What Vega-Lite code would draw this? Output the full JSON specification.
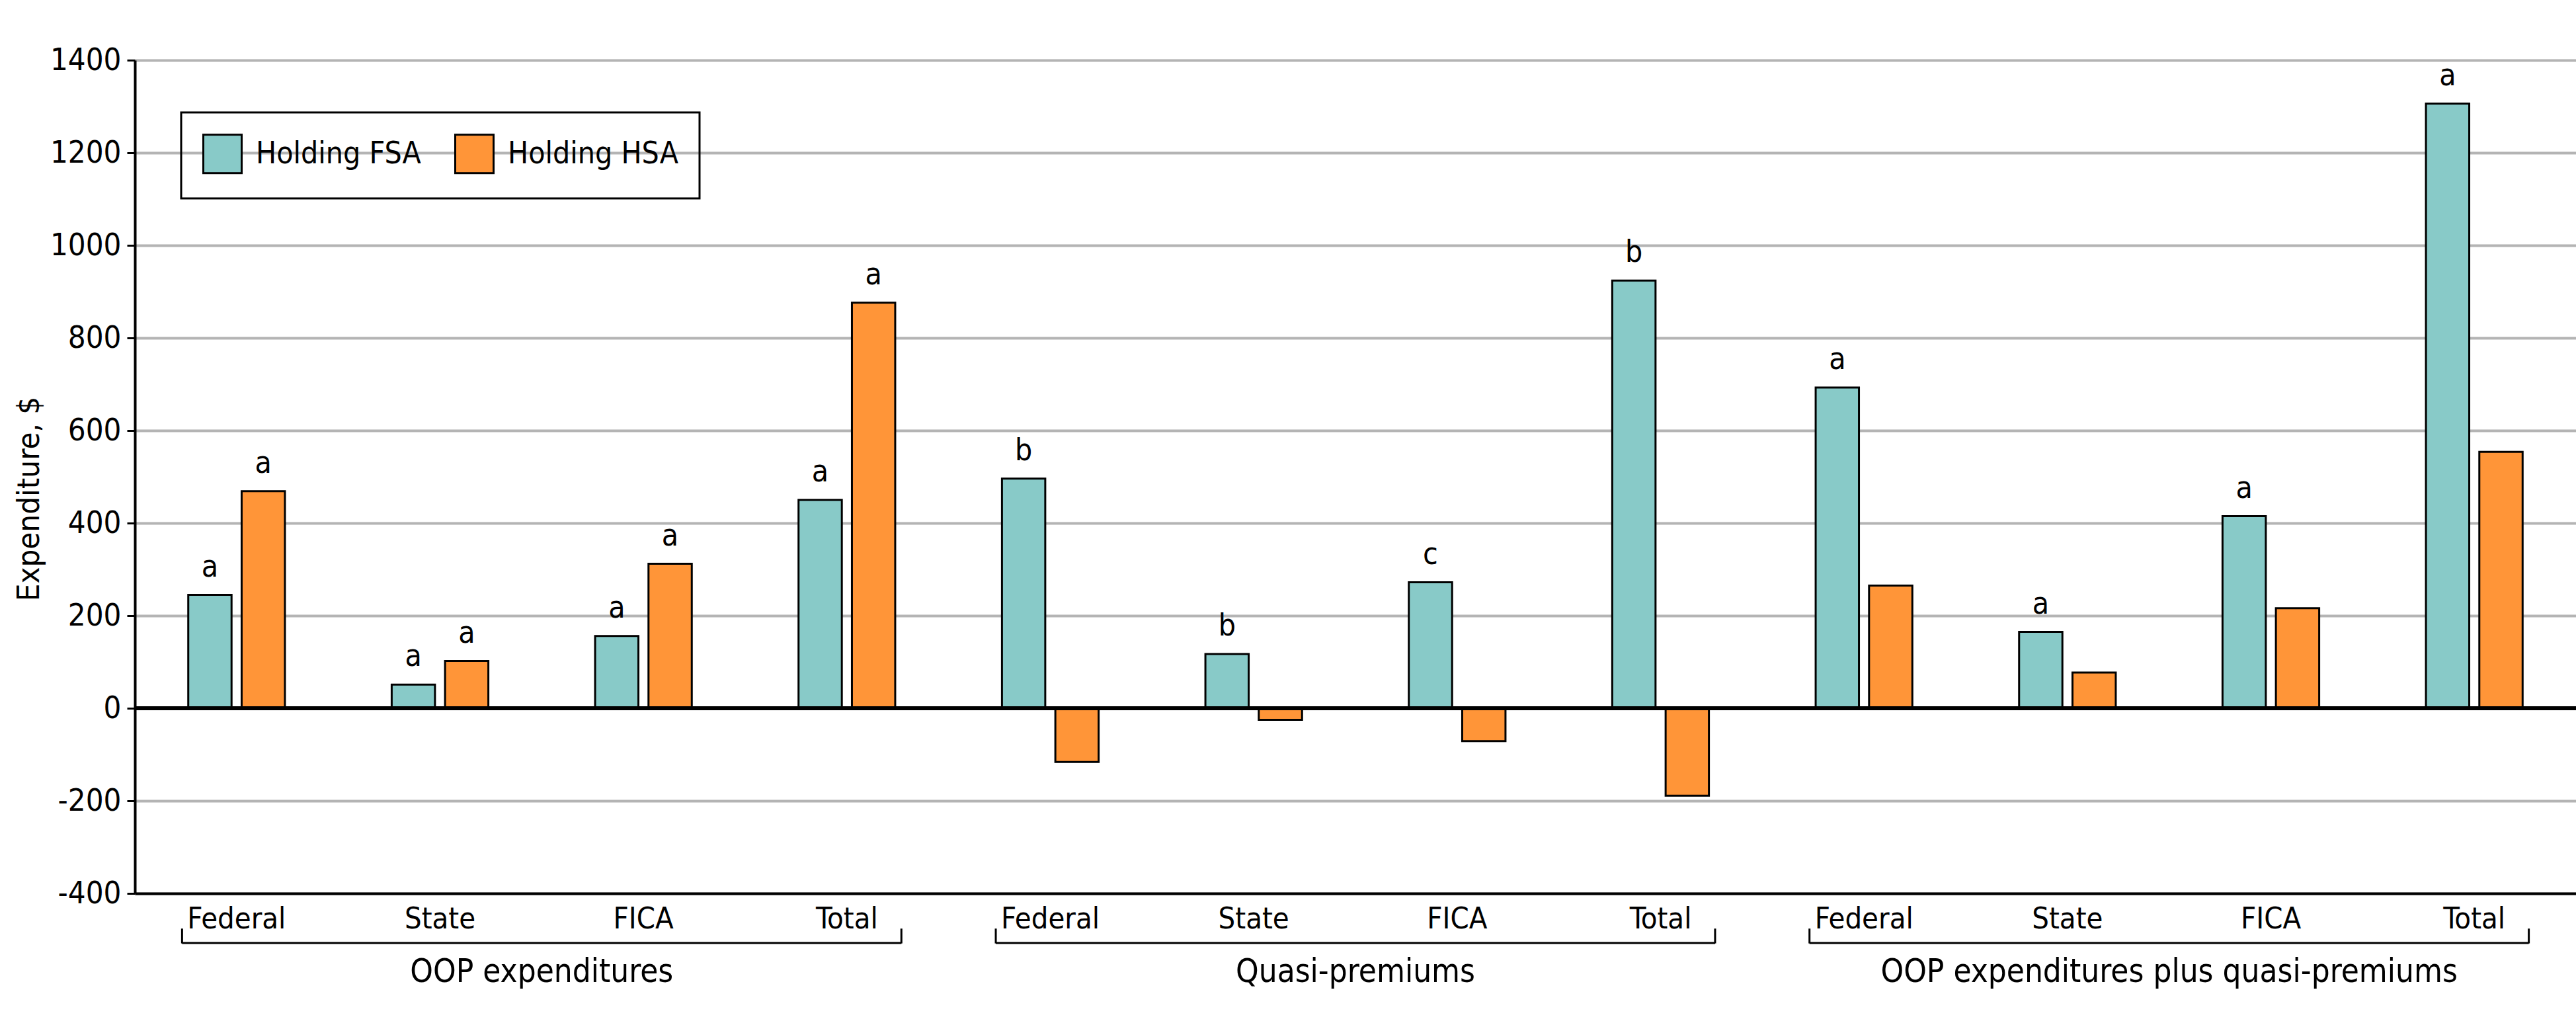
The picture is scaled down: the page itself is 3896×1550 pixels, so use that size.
{
  "$schema": "https://vega.github.io/schema/vega-lite/v6.json",
  "width": 3692,
  "height": 1260,
  "autosize": {"type": "none"},
  "padding": {"left": 204, "top": 91, "right": 0, "bottom": 199},
  "background": "white",
  "config": {
    "view": {"stroke": null},
    "font": "DejaVu Sans Condensed, Roboto Condensed, Liberation Sans Narrow, Roboto",
    "axis": {"labelColor": "black", "titleColor": "black", "domainColor": "black"},
    "legend": {"strokeColor": "black", "strokeWidth": 3, "padding": 32}
  },
  "datasets": {
    "bars": [
      {"key": "OOP expenditures|Federal", "plan": "Holding FSA", "value": 245, "sig": "a"},
      {"key": "OOP expenditures|Federal", "plan": "Holding HSA", "value": 469, "sig": "a"},
      {"key": "OOP expenditures|State", "plan": "Holding FSA", "value": 51, "sig": "a"},
      {"key": "OOP expenditures|State", "plan": "Holding HSA", "value": 102, "sig": "a"},
      {"key": "OOP expenditures|FICA", "plan": "Holding FSA", "value": 156, "sig": "a"},
      {"key": "OOP expenditures|FICA", "plan": "Holding HSA", "value": 312, "sig": "a"},
      {"key": "OOP expenditures|Total", "plan": "Holding FSA", "value": 450, "sig": "a"},
      {"key": "OOP expenditures|Total", "plan": "Holding HSA", "value": 876, "sig": "a"},
      {"key": "Quasi-premiums|Federal", "plan": "Holding FSA", "value": 496, "sig": "b"},
      {"key": "Quasi-premiums|Federal", "plan": "Holding HSA", "value": -116, "sig": ""},
      {"key": "Quasi-premiums|State", "plan": "Holding FSA", "value": 117, "sig": "b"},
      {"key": "Quasi-premiums|State", "plan": "Holding HSA", "value": -25, "sig": ""},
      {"key": "Quasi-premiums|FICA", "plan": "Holding FSA", "value": 272, "sig": "c"},
      {"key": "Quasi-premiums|FICA", "plan": "Holding HSA", "value": -71, "sig": ""},
      {"key": "Quasi-premiums|Total", "plan": "Holding FSA", "value": 924, "sig": "b"},
      {"key": "Quasi-premiums|Total", "plan": "Holding HSA", "value": -189, "sig": ""},
      {"key": "OOP expenditures plus quasi-premiums|Federal", "plan": "Holding FSA", "value": 693, "sig": "a"},
      {"key": "OOP expenditures plus quasi-premiums|Federal", "plan": "Holding HSA", "value": 265, "sig": ""},
      {"key": "OOP expenditures plus quasi-premiums|State", "plan": "Holding FSA", "value": 165, "sig": "a"},
      {"key": "OOP expenditures plus quasi-premiums|State", "plan": "Holding HSA", "value": 77, "sig": ""},
      {"key": "OOP expenditures plus quasi-premiums|FICA", "plan": "Holding FSA", "value": 415, "sig": "a"},
      {"key": "OOP expenditures plus quasi-premiums|FICA", "plan": "Holding HSA", "value": 216, "sig": ""},
      {"key": "OOP expenditures plus quasi-premiums|Total", "plan": "Holding FSA", "value": 1306, "sig": "a"},
      {"key": "OOP expenditures plus quasi-premiums|Total", "plan": "Holding HSA", "value": 554, "sig": ""}
    ],
    "sections": [
      {"section": "OOP expenditures"},
      {"section": "Quasi-premiums"},
      {"section": "OOP expenditures plus quasi-premiums"}
    ]
  },
  "layer": [
    {
      "data": {"name": "bars"},
      "layer": [
        {
          "mark": {"type": "bar", "stroke": "black", "strokeWidth": 3},
          "encoding": {
            "x": {
              "field": "key", "type": "nominal", "sort": null,
              "scale": {"paddingInner": 0, "paddingOuter": 0},
              "axis": {
                "title": null, "labelAngle": 0, "ticks": false, "tickSize": 0,
                "labelExpr": "split(datum.label, '|')[1]",
                "labelBaseline": "alphabetic", "labelPadding": 52, "labelFontSize": 45,
                "domainWidth": 4
              }
            },
            "xOffset": {
              "field": "plan", "type": "nominal",
              "scale": {"paddingInner": 0.189, "paddingOuter": 1.174}
            },
            "y": {
              "field": "value", "type": "quantitative",
              "scale": {"domain": [-400, 1400], "nice": false, "zero": false},
              "axis": {
                "title": "Expenditure, $", "values": [-400, -200, 0, 200, 400, 600, 800, 1000, 1200, 1400],
                "labelExpr": "'' + datum.value",
                "grid": true, "gridColor": "#b4b4b4", "gridWidth": 4,
                "domainWidth": 4, "tickColor": "black", "tickWidth": 3, "tickSize": 12,
                "labelPadding": 9, "labelFontSize": 47,
                "titleFontSize": 47, "titleFontWeight": "normal",
                "titleX": -146, "titleY": 663, "titleBaseline": "alphabetic"
              }
            },
            "color": {
              "field": "plan", "type": "nominal",
              "scale": {"domain": ["Holding FSA", "Holding HSA"], "range": ["#88CAC8", "#FF9538"]},
              "legend": {
                "title": null, "orient": "none", "legendX": 70, "legendY": 79,
                "direction": "horizontal", "symbolType": "square", "symbolSize": 3364,
                "symbolStrokeColor": "black", "symbolStrokeWidth": 3, "symbolOpacity": 1,
                "labelFontSize": 46, "labelColor": "black", "labelOffset": 20,
                "columnPadding": 45, "labelLimit": 0
              }
            }
          }
        },
        {
          "mark": {"type": "text", "baseline": "alphabetic", "dy": -28, "fontSize": 46, "color": "black"},
          "encoding": {
            "x": {"field": "key", "type": "nominal", "sort": null},
            "xOffset": {"field": "plan", "type": "nominal"},
            "y": {"field": "value", "type": "quantitative"},
            "text": {"field": "sig"}
          }
        },
        {
          "mark": {"type": "rule", "color": "black", "strokeWidth": 5},
          "encoding": {"y": {"datum": 0}}
        }
      ]
    },
    {
      "data": {"name": "sections"},
      "layer": [
        {
          "mark": {"type": "text", "baseline": "alphabetic", "fontSize": 49, "color": "black"},
          "encoding": {
            "x": {"field": "section", "type": "nominal", "sort": null, "axis": null, "scale": {"paddingInner": 0, "paddingOuter": 0}},
            "y": {"datum": -591},
            "text": {"field": "section"}
          }
        },
        {
          "mark": {"type": "tick", "orient": "horizontal", "size": 1088, "thickness": 3, "color": "black", "opacity": 1},
          "encoding": {
            "x": {"field": "section", "type": "nominal", "sort": null, "axis": null},
            "y": {"datum": -507}
          }
        },
        {
          "mark": {"type": "rule", "color": "black", "strokeWidth": 3},
          "encoding": {
            "x": {"field": "section", "type": "nominal", "sort": null, "axis": null, "bandPosition": 0.058},
            "y": {"datum": -476},
            "y2": {"datum": -508}
          }
        },
        {
          "mark": {"type": "rule", "color": "black", "strokeWidth": 3},
          "encoding": {
            "x": {"field": "section", "type": "nominal", "sort": null, "axis": null, "bandPosition": 0.942},
            "y": {"datum": -476},
            "y2": {"datum": -508}
          }
        }
      ]
    }
  ],
  "resolve": {"scale": {"x": "independent"}, "axis": {"x": "independent"}}
}
